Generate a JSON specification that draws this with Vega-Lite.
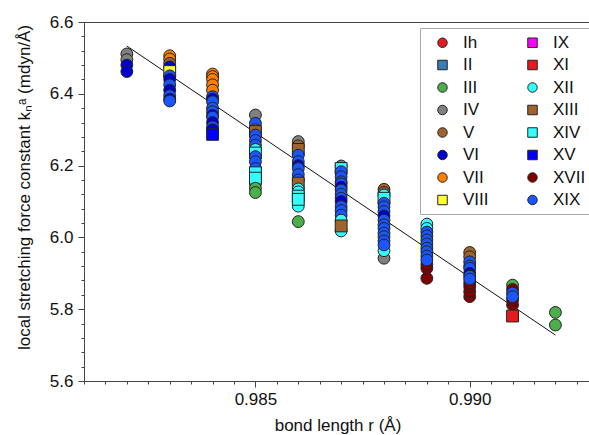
{
  "$schema": "https://vega.github.io/schema/vega-lite/v6.json",
  "width": 507,
  "height": 359,
  "autosize": "none",
  "padding": {"left": 84, "top": 22, "right": 0, "bottom": 54},
  "background": "white",
  "config": {
    "font": "Liberation Sans",
    "view": {"stroke": "#444", "strokeWidth": 1},
    "axis": {"grid": false, "domainColor": "#444", "tickColor": "#444", "labelColor": "#111", "titleColor": "#111", "labelFont": "Liberation Sans", "titleFont": "Liberation Sans", "labelFontSize": 17, "titleFontSize": 17, "titleFontWeight": "normal", "labelOverlap": false, "labelFlush": false}
  },
  "resolve": {"axis": {"x": "independent", "y": "independent"}},
  "layer": [
    {
      "data": {"values": [{"r": 0.982, "k": 6.533}, {"r": 0.992, "k": 5.728}]},
      "mark": {"type": "line", "color": "#111", "strokeWidth": 1},
      "encoding": {
        "x": {"field": "r", "type": "quantitative",
          "axis": {"orient": "bottom", "title": null, "labels": false, "tickSize": 3,
            "values": [0.981, 0.9815, 0.982, 0.9825, 0.983, 0.9835, 0.984, 0.9845, 0.985, 0.9855, 0.986, 0.9865, 0.987, 0.9875, 0.988, 0.9885, 0.989, 0.9895, 0.99, 0.9905, 0.991, 0.9915, 0.992, 0.9925]}},
        "y": {"field": "k", "type": "quantitative",
          "axis": {"orient": "left", "title": null, "labels": false, "tickSize": 3,
            "values": [5.6, 5.64, 5.68, 5.72, 5.76, 5.8, 5.84, 5.88, 5.92, 5.96, 6.0, 6.04, 6.08, 6.12, 6.16, 6.2, 6.24, 6.28, 6.32, 6.36, 6.4, 6.44, 6.48, 6.52, 6.56, 6.6]}}
      }
    },
    {
      "data": {"values": [
        {"r": 0.982, "k": 6.511, "s": "IV"}, {"r": 0.982, "k": 6.495, "s": "IV"}, {"r": 0.982, "k": 6.480, "s": "VI"}, {"r": 0.982, "k": 6.462, "s": "VI"},
        {"r": 0.983, "k": 6.506, "s": "VII"}, {"r": 0.983, "k": 6.497, "s": "VII"}, {"r": 0.983, "k": 6.485, "s": "V"}, {"r": 0.983, "k": 6.475, "s": "VI"}, {"r": 0.983, "k": 6.462, "s": "VIII"}, {"r": 0.983, "k": 6.450, "s": "XIX"}, {"r": 0.983, "k": 6.440, "s": "VI"}, {"r": 0.983, "k": 6.425, "s": "XIX"}, {"r": 0.983, "k": 6.410, "s": "VI"}, {"r": 0.983, "k": 6.395, "s": "XIX"}, {"r": 0.983, "k": 6.385, "s": "VI"}, {"r": 0.983, "k": 6.380, "s": "XIX"},
        {"r": 0.984, "k": 6.455, "s": "VII"}, {"r": 0.984, "k": 6.448, "s": "VII"}, {"r": 0.984, "k": 6.440, "s": "VII"}, {"r": 0.984, "k": 6.425, "s": "VII"}, {"r": 0.984, "k": 6.410, "s": "VII"}, {"r": 0.984, "k": 6.392, "s": "XIX"}, {"r": 0.984, "k": 6.385, "s": "VI"}, {"r": 0.984, "k": 6.378, "s": "XIX"}, {"r": 0.984, "k": 6.360, "s": "XIX"}, {"r": 0.984, "k": 6.350, "s": "XIX"}, {"r": 0.984, "k": 6.340, "s": "VI"}, {"r": 0.984, "k": 6.335, "s": "XIX"}, {"r": 0.984, "k": 6.320, "s": "VI"}, {"r": 0.984, "k": 6.308, "s": "XIX"}, {"r": 0.984, "k": 6.300, "s": "VI"}, {"r": 0.984, "k": 6.287, "s": "XV"},
        {"r": 0.985, "k": 6.341, "s": "IV"}, {"r": 0.985, "k": 6.318, "s": "XIX"}, {"r": 0.985, "k": 6.300, "s": "V"}, {"r": 0.985, "k": 6.295, "s": "XIII"}, {"r": 0.985, "k": 6.285, "s": "XIX"}, {"r": 0.985, "k": 6.270, "s": "XIX"}, {"r": 0.985, "k": 6.257, "s": "XIX"}, {"r": 0.985, "k": 6.245, "s": "XII"}, {"r": 0.985, "k": 6.235, "s": "XIV"}, {"r": 0.985, "k": 6.225, "s": "XIX"}, {"r": 0.985, "k": 6.211, "s": "XIX"}, {"r": 0.985, "k": 6.192, "s": "XIX"}, {"r": 0.985, "k": 6.180, "s": "XIV"}, {"r": 0.985, "k": 6.150, "s": "XII"}, {"r": 0.985, "k": 6.165, "s": "XIV"}, {"r": 0.985, "k": 6.137, "s": "III"}, {"r": 0.985, "k": 6.125, "s": "III"},
        {"r": 0.986, "k": 6.267, "s": "IV"}, {"r": 0.986, "k": 6.255, "s": "V"}, {"r": 0.986, "k": 6.245, "s": "XIII"}, {"r": 0.986, "k": 6.229, "s": "XIX"}, {"r": 0.986, "k": 6.211, "s": "XIX"}, {"r": 0.986, "k": 6.200, "s": "VI"}, {"r": 0.986, "k": 6.192, "s": "XIX"}, {"r": 0.986, "k": 6.175, "s": "XIX"}, {"r": 0.986, "k": 6.160, "s": "XIX"}, {"r": 0.986, "k": 6.151, "s": "XIII"}, {"r": 0.986, "k": 6.135, "s": "XII"}, {"r": 0.986, "k": 6.127, "s": "XII"}, {"r": 0.986, "k": 6.087, "s": "XII"}, {"r": 0.986, "k": 6.115, "s": "XIV"}, {"r": 0.986, "k": 6.106, "s": "XIV"}, {"r": 0.986, "k": 6.044, "s": "III"},
        {"r": 0.987, "k": 6.199, "s": "IV"}, {"r": 0.987, "k": 6.192, "s": "XIV"}, {"r": 0.987, "k": 6.183, "s": "XIX"}, {"r": 0.987, "k": 6.169, "s": "XIX"}, {"r": 0.987, "k": 6.155, "s": "XIX"}, {"r": 0.987, "k": 6.149, "s": "XIX"}, {"r": 0.987, "k": 6.140, "s": "VI"}, {"r": 0.987, "k": 6.132, "s": "XIX"}, {"r": 0.987, "k": 6.120, "s": "XIX"}, {"r": 0.987, "k": 6.109, "s": "XIX"}, {"r": 0.987, "k": 6.100, "s": "VI"}, {"r": 0.987, "k": 6.086, "s": "XIX"}, {"r": 0.987, "k": 6.075, "s": "XIX"}, {"r": 0.987, "k": 6.062, "s": "XIX"}, {"r": 0.987, "k": 6.018, "s": "XII"}, {"r": 0.987, "k": 6.048, "s": "XII"}, {"r": 0.987, "k": 6.032, "s": "XIII"},
        {"r": 0.988, "k": 6.134, "s": "V"}, {"r": 0.988, "k": 6.125, "s": "V"}, {"r": 0.988, "k": 6.118, "s": "XII"}, {"r": 0.988, "k": 6.109, "s": "XIV"}, {"r": 0.988, "k": 6.095, "s": "XIX"}, {"r": 0.988, "k": 6.085, "s": "XIX"}, {"r": 0.988, "k": 6.072, "s": "XIX"}, {"r": 0.988, "k": 6.060, "s": "VI"}, {"r": 0.988, "k": 6.048, "s": "XIX"}, {"r": 0.988, "k": 6.035, "s": "XIX"}, {"r": 0.988, "k": 6.025, "s": "XIX"}, {"r": 0.988, "k": 6.012, "s": "XIX"}, {"r": 0.988, "k": 5.942, "s": "IV"}, {"r": 0.988, "k": 5.963, "s": "XII"}, {"r": 0.988, "k": 6.002, "s": "XIX"}, {"r": 0.988, "k": 5.990, "s": "XIX"}, {"r": 0.988, "k": 5.979, "s": "XIX"},
        {"r": 0.989, "k": 6.037, "s": "XII"}, {"r": 0.989, "k": 6.025, "s": "XII"}, {"r": 0.989, "k": 6.015, "s": "XIX"}, {"r": 0.989, "k": 6.004, "s": "XIX"}, {"r": 0.989, "k": 5.993, "s": "XIX"}, {"r": 0.989, "k": 5.982, "s": "XIX"}, {"r": 0.989, "k": 5.886, "s": "XVII"}, {"r": 0.989, "k": 5.914, "s": "XVII"}, {"r": 0.989, "k": 5.925, "s": "XVII"}, {"r": 0.989, "k": 5.970, "s": "XIX"}, {"r": 0.989, "k": 5.960, "s": "XIX"}, {"r": 0.989, "k": 5.948, "s": "XIX"}, {"r": 0.989, "k": 5.937, "s": "XIX"},
        {"r": 0.990, "k": 5.958, "s": "V"}, {"r": 0.990, "k": 5.946, "s": "V"}, {"r": 0.990, "k": 5.835, "s": "XVII"}, {"r": 0.990, "k": 5.849, "s": "XVII"}, {"r": 0.990, "k": 5.863, "s": "XVII"}, {"r": 0.990, "k": 5.873, "s": "XVII"}, {"r": 0.990, "k": 5.932, "s": "XIX"}, {"r": 0.990, "k": 5.920, "s": "XIX"}, {"r": 0.990, "k": 5.914, "s": "XIX"}, {"r": 0.990, "k": 5.900, "s": "VI"}, {"r": 0.990, "k": 5.892, "s": "XIX"}, {"r": 0.990, "k": 5.884, "s": "XIX"},
        {"r": 0.991, "k": 5.867, "s": "III"}, {"r": 0.991, "k": 5.812, "s": "XVII"}, {"r": 0.991, "k": 5.826, "s": "XVII"}, {"r": 0.991, "k": 5.855, "s": "XVII"}, {"r": 0.991, "k": 5.845, "s": "XIX"}, {"r": 0.991, "k": 5.835, "s": "XIX"}, {"r": 0.991, "k": 5.781, "s": "XI"},
        {"r": 0.992, "k": 5.791, "s": "III"}, {"r": 0.992, "k": 5.756, "s": "III"}
      ]},
      "mark": {"type": "point", "filled": true, "opacity": 1, "stroke": "#222", "strokeWidth": 1, "size": 140},
      "encoding": {
        "x": {
          "field": "r", "type": "quantitative",
          "scale": {"domain": [0.981, 0.99283], "nice": false, "zero": false},
          "axis": {
            "orient": "bottom",
            "title": "bond length r (Å)",
            "values": [0.985, 0.99],
            "format": ".3f",
            "tickSize": 6,
            "labelPadding": 4,
            "titleY": 49,
            "titleBaseline": "alphabetic"
          }
        },
        "y": {
          "field": "k", "type": "quantitative",
          "scale": {"domain": [5.6, 6.6], "nice": false, "zero": false},
          "axis": {
            "orient": "left",
            "title": "local stretching force constant kₙᵃ (mdyn/Å)",
            "values": [5.6, 5.8, 6.0, 6.2, 6.4, 6.6],
            "format": ".1f",
            "tickSize": 6,
            "labelPadding": 5,
            "titleX": -60,
            "titleY": 165,
            "titleAngle": -90,
            "titleBaseline": "middle",
            "titleAlign": "center"
          }
        },
        "color": {
          "field": "s", "type": "nominal",
          "scale": {
            "domain": ["Ih", "II", "III", "IV", "V", "VI", "VII", "VIII", "IX", "XI", "XII", "XIII", "XIV", "XV", "XVII", "XIX"],
            "range": ["#e41a1c", "#377eb8", "#4daf4a", "#808080", "#a0632e", "#0000d0", "#ff7f00", "#ffff33", "#ff00ff", "#e41a1c", "#33ffff", "#a0632e", "#33ffff", "#0000ff", "#800000", "#1a55ff"]
          },
          "legend": {
            "title": null, "orient": "none", "legendX": 336, "legendY": 6, "columns": 2,
            "padding": 6, "symbolOffset": 8, "rowPadding": 4.5, "columnPadding": 27,
            "labelFontSize": 17, "labelFont": "Liberation Sans", "labelColor": "#111", "labelOffset": 12,
            "symbolSize": 90, "symbolStrokeColor": "#222", "symbolStrokeWidth": 1,
            "strokeColor": "#aaa", "fillColor": "white",
            "encode": {"legend": {"update": {"strokeDash": {"value": [2, 2]}}}}
          }
        },
        "shape": {
          "field": "s", "type": "nominal",
          "scale": {
            "domain": ["Ih", "II", "III", "IV", "V", "VI", "VII", "VIII", "IX", "XI", "XII", "XIII", "XIV", "XV", "XVII", "XIX"],
            "range": ["circle", "square", "circle", "circle", "circle", "circle", "circle", "square", "square", "square", "circle", "square", "square", "square", "circle", "circle"]
          }
        }
      }
    },
    {
      "mark": {"type": "text", "text": "R²=0.956", "align": "left", "baseline": "middle", "fontSize": 16, "font": "Liberation Sans", "color": "#111"},
      "encoding": {
        "x": {"datum": 0.98647, "type": "quantitative", "axis": null},
        "y": {"datum": 6.530, "type": "quantitative", "axis": null}
      }
    },
    {
      "mark": {"type": "text", "text": "Donor bond OH", "align": "left", "baseline": "middle", "fontSize": 16, "font": "Liberation Sans", "color": "#111"},
      "encoding": {
        "x": {"datum": 0.98126, "type": "quantitative", "axis": null},
        "y": {"datum": 5.6585, "type": "quantitative", "axis": null}
      }
    }
  ]
}
